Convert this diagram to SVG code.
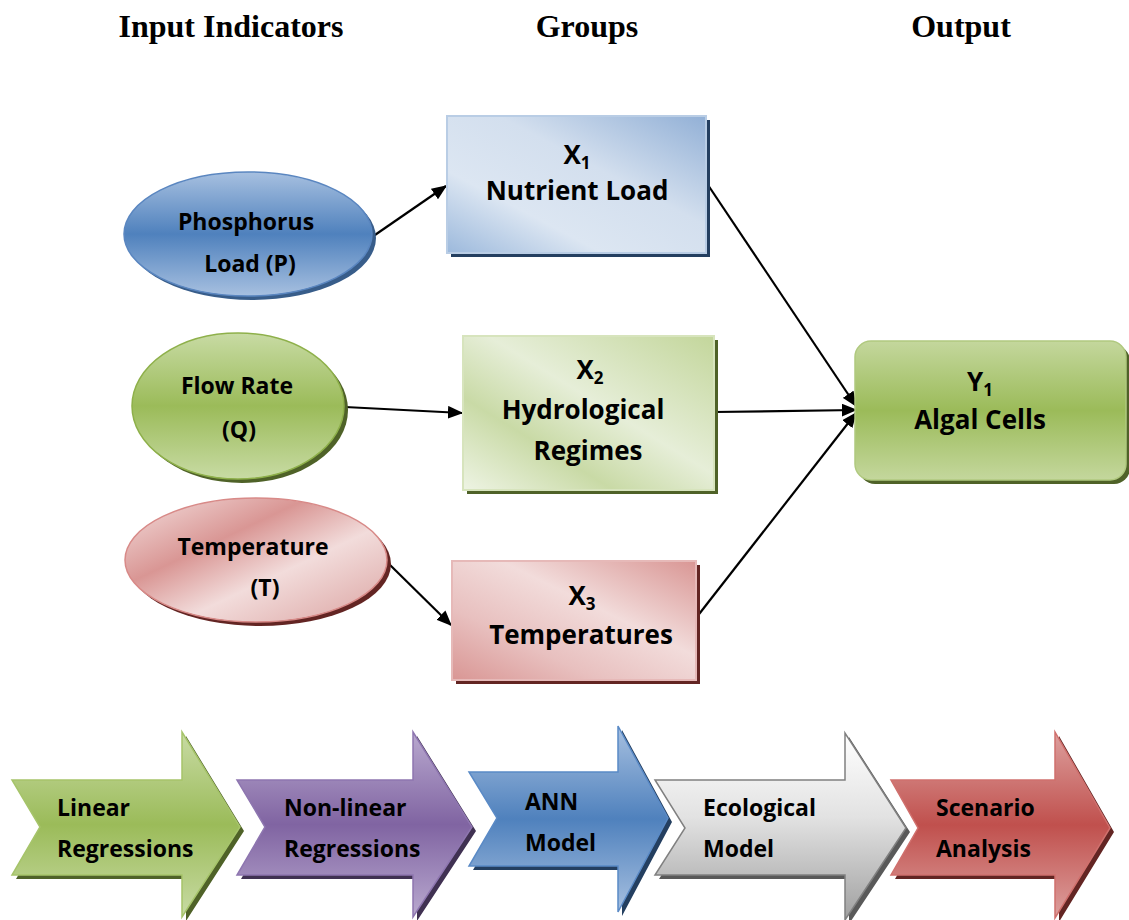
<svg xmlns="http://www.w3.org/2000/svg" width="1129" height="920" viewBox="0 0 1129 920">
<defs>
<style>
.title{font-family:"Liberation Serif","Times New Roman",serif;font-weight:bold;font-size:32px;fill:#000;text-anchor:middle}
.lbl{font-family:"Open Sans","Liberation Sans",sans-serif;font-weight:bold;fill:#000;text-anchor:middle}
.el{font-size:23px}
.bx{font-size:26px}
.ar{font-family:"Open Sans","Liberation Sans",sans-serif;font-weight:bold;font-size:23px;fill:#000}
.conn{stroke:#000;stroke-width:2.2;fill:none;marker-end:url(#ah)}
</style>
<marker id="ah" viewBox="0 0 12 10" refX="11" refY="5" markerWidth="7" markerHeight="6" orient="auto" markerUnits="strokeWidth">
<path d="M0,0 L12,5 L0,10 z" fill="#000"/>
</marker>
<linearGradient id="gBlueEl" x1="0" y1="0" x2="0" y2="1">
<stop offset="0" stop-color="#a7c0e0"/><stop offset="0.5" stop-color="#4f81bd"/><stop offset="1" stop-color="#a7c0e0"/>
</linearGradient>
<linearGradient id="gGreenEl" x1="0" y1="0" x2="0" y2="1">
<stop offset="0" stop-color="#c8dba4"/><stop offset="0.5" stop-color="#9bbb59"/><stop offset="1" stop-color="#c8dba4"/>
</linearGradient>
<linearGradient id="gRedEl" x1="0" y1="0" x2="1" y2="1">
<stop offset="0" stop-color="#f4e0df"/><stop offset="0.35" stop-color="#d99694"/><stop offset="0.6" stop-color="#f2dcdb"/><stop offset="1" stop-color="#dba3a1"/>
</linearGradient>
<linearGradient id="gBlueBx" x1="0" y1="1" x2="1" y2="0">
<stop offset="0" stop-color="#9cb9dc"/><stop offset="0.3" stop-color="#dce6f2"/><stop offset="0.6" stop-color="#d3dfee"/><stop offset="1" stop-color="#92b0d6"/>
</linearGradient>
<linearGradient id="gGreenBx" x1="1" y1="0" x2="0" y2="1">
<stop offset="0" stop-color="#c3d69b"/><stop offset="0.45" stop-color="#e6eed8"/><stop offset="0.7" stop-color="#c9daa6"/><stop offset="1" stop-color="#eef4e4"/>
</linearGradient>
<linearGradient id="gRedBx" x1="1" y1="0" x2="0" y2="1">
<stop offset="0" stop-color="#d99694"/><stop offset="0.4" stop-color="#f2dcdb"/><stop offset="0.7" stop-color="#e8c0bf"/><stop offset="1" stop-color="#d99694"/>
</linearGradient>
<linearGradient id="gOut" x1="0" y1="0" x2="0" y2="1">
<stop offset="0" stop-color="#c4d79d"/><stop offset="0.5" stop-color="#9bbb59"/><stop offset="1" stop-color="#c4d79d"/>
</linearGradient>
<linearGradient id="aGreen" x1="0" y1="0" x2="0" y2="1">
<stop offset="0" stop-color="#c8dba4"/><stop offset="0.5" stop-color="#9bbb59"/><stop offset="1" stop-color="#c8dba4"/>
</linearGradient>
<linearGradient id="aPurple" x1="0" y1="0" x2="0" y2="1">
<stop offset="0" stop-color="#b9a9cf"/><stop offset="0.5" stop-color="#8064a2"/><stop offset="1" stop-color="#b9a9cf"/>
</linearGradient>
<linearGradient id="aBlue" x1="0" y1="0" x2="0" y2="1">
<stop offset="0" stop-color="#a7c0e0"/><stop offset="0.5" stop-color="#4f81bd"/><stop offset="1" stop-color="#a7c0e0"/>
</linearGradient>
<linearGradient id="aGray" x1="0" y1="0" x2="0" y2="1">
<stop offset="0" stop-color="#ffffff"/><stop offset="0.45" stop-color="#e2e2e2"/><stop offset="1" stop-color="#a0a0a0"/>
</linearGradient>
<linearGradient id="aRed" x1="0" y1="0" x2="0" y2="1">
<stop offset="0" stop-color="#dda09e"/><stop offset="0.5" stop-color="#c0504d"/><stop offset="1" stop-color="#dda09e"/>
</linearGradient>
</defs>
<rect width="1129" height="920" fill="#fff"/>

<g id="titles">
<text class="title" x="231" y="37">Input Indicators</text>
<text class="title" x="587" y="37">Groups</text>
<text class="title" x="961" y="37">Output</text>
</g>

<g id="connectors">
<line class="conn" x1="372" y1="237" x2="446" y2="186"/>
<line class="conn" x1="345" y1="407" x2="462" y2="413"/>
<line class="conn" x1="388" y1="563" x2="451" y2="625"/>
<line class="conn" x1="706" y1="182" x2="856" y2="406"/>
<line class="conn" x1="714" y1="412" x2="856" y2="410"/>
<line class="conn" x1="696" y1="618" x2="856" y2="413"/>
</g>

<g id="node-P">
<ellipse cx="252" cy="238" rx="124" ry="62" fill="#385d8a"/>
<ellipse cx="248" cy="234" rx="124" ry="62" fill="url(#gBlueEl)" stroke="#5a86c0" stroke-width="1.5"/>
<text class="lbl el" x="246" y="230">Phosphorus</text>
<text class="lbl el" x="250" y="272">Load (P)</text>
</g>

<g id="node-Q">
<ellipse cx="242" cy="410" rx="106" ry="73" fill="#4f6228"/>
<ellipse cx="238" cy="406" rx="106" ry="73" fill="url(#gGreenEl)" stroke="#8eb04a" stroke-width="1.5"/>
<text class="lbl el" x="237" y="394">Flow Rate</text>
<text class="lbl el" x="239" y="438">(Q)</text>
</g>

<g id="node-T">
<ellipse cx="260" cy="564" rx="131" ry="62" fill="#632523"/>
<ellipse cx="256" cy="560" rx="131" ry="62" fill="url(#gRedEl)" stroke="#d88a88" stroke-width="1.5"/>
<text class="lbl el" x="253" y="555">Temperature</text>
<text class="lbl el" x="265" y="596">(T)</text>
</g>

<g id="node-X1">
<rect x="451" y="120" width="259" height="137" fill="#243f60"/>
<rect x="447" y="116" width="259" height="137" fill="url(#gBlueBx)" stroke="#b9cde5" stroke-width="2"/>
<text class="lbl bx" x="577" y="164">X<tspan font-size="17" dy="5">1</tspan></text>
<text class="lbl bx" x="577" y="200">Nutrient Load</text>
</g>

<g id="node-X2">
<rect x="467" y="340" width="251" height="154" fill="#4f6228"/>
<rect x="463" y="336" width="251" height="154" fill="url(#gGreenBx)" stroke="#d7e4bd" stroke-width="2"/>
<text class="lbl bx" x="590" y="379">X<tspan font-size="17" dy="5">2</tspan></text>
<text class="lbl bx" x="583" y="419">Hydrological</text>
<text class="lbl bx" x="588" y="460">Regimes</text>
</g>

<g id="node-X3">
<rect x="456" y="565" width="244" height="119" fill="#632523"/>
<rect x="452" y="561" width="244" height="119" fill="url(#gRedBx)" stroke="#e6b9b8" stroke-width="2"/>
<text class="lbl bx" x="582" y="605">X<tspan font-size="17" dy="5">3</tspan></text>
<text class="lbl bx" x="581" y="644">Temperatures</text>
</g>

<g id="node-Y1">
<rect x="859" y="345" width="271" height="139" rx="16" fill="#4f6228"/>
<rect x="855" y="341" width="271" height="139" rx="16" fill="url(#gOut)" stroke="#b0c97f" stroke-width="1.5"/>
<text class="lbl bx" x="980" y="391">Y<tspan font-size="17" dy="5">1</tspan></text>
<text class="lbl bx" x="980" y="429">Algal Cells</text>
</g>

<g id="step-linear">
<path d="M16,784 L186,784 L186,736 L244,831 L186,921 L186,879 L16,879 L44,831 Z" fill="#4f6228"/>
<path d="M12,780 L182,780 L182,732 L240,827 L182,917 L182,875 L12,875 L40,827 Z" fill="url(#aGreen)" stroke="#a6c46a" stroke-width="1.5"/>
<text class="ar" x="57" y="816">Linear</text>
<text class="ar" x="57" y="857">Regressions</text>
</g>

<g id="step-nonlinear">
<path d="M241,784 L417,784 L417,736 L476,831 L417,921 L417,879 L241,879 L269,831 Z" fill="#403152"/>
<path d="M237,780 L413,780 L413,732 L472,827 L413,917 L413,875 L237,875 L265,827 Z" fill="url(#aPurple)" stroke="#8e76b0" stroke-width="1.5"/>
<text class="ar" x="284" y="816">Non-linear</text>
<text class="ar" x="284" y="857">Regressions</text>
</g>

<g id="step-ann">
<path d="M473,776 L622,776 L622,730 L672,822 L622,916 L622,870 L473,870 L501,822 Z" fill="#243f60"/>
<path d="M469,772 L618,772 L618,726 L668,818 L618,912 L618,866 L469,866 L497,818 Z" fill="url(#aBlue)" stroke="#5a8ac6" stroke-width="1.5"/>
<text class="ar" x="525" y="810">ANN</text>
<text class="ar" x="525" y="851">Model</text>
</g>

<g id="step-ecological">
<path d="M659,784 L849,784 L849,737 L910,832 L849,924 L849,879 L659,879 L689,832 Z" fill="#595959"/>
<path d="M655,780 L845,780 L845,733 L906,828 L845,920 L845,875 L655,875 L685,828 Z" fill="url(#aGray)" stroke="#808080" stroke-width="1.5"/>
<text class="ar" x="703" y="816">Ecological</text>
<text class="ar" x="703" y="857">Model</text>
</g>

<g id="step-scenario">
<path d="M895,784 L1059,784 L1059,736 L1114,832 L1059,922 L1059,879 L895,879 L922,832 Z" fill="#632523"/>
<path d="M891,780 L1055,780 L1055,732 L1110,828 L1055,918 L1055,875 L891,875 L918,828 Z" fill="url(#aRed)" stroke="#d0706d" stroke-width="1.5"/>
<text class="ar" x="936" y="816">Scenario</text>
<text class="ar" x="936" y="857">Analysis</text>
</g>
</svg>
